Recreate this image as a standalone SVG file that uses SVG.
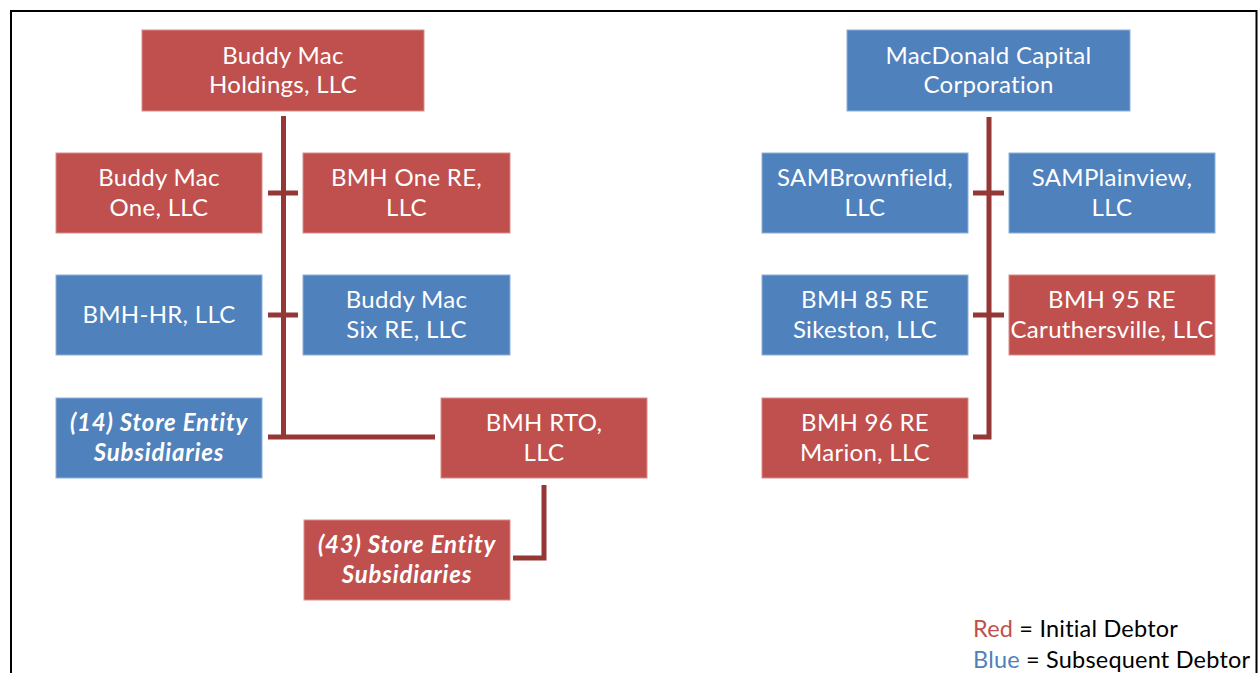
<svg xmlns="http://www.w3.org/2000/svg" width="1259" height="673" viewBox="0 0 1259 673">
<style>
.red{fill:#C0504D;stroke:#D88E8C;stroke-width:1}
.blue{fill:#4F81BD;stroke:#8FB0D8;stroke-width:1}
.t{font-family:Lato,"Open Sans",sans-serif;font-size:24px;letter-spacing:0.3px;fill:#ffffff;text-anchor:middle}
.ti{font-family:Lato,"Open Sans",sans-serif;font-size:24px;letter-spacing:0.8px;fill:#ffffff;text-anchor:middle;font-weight:bold;font-style:italic}
.c{fill:none;stroke:#953735;stroke-width:5;stroke-linecap:butt;stroke-linejoin:miter}
.lg{font-family:Lato,"Open Sans",sans-serif;font-size:23.5px;letter-spacing:0.2px;fill:#000000}
</style>
<rect x="0" y="0" width="1259" height="673" fill="#ffffff"/>
<path d="M11 673 V11 H1256.5 V673" fill="none" stroke="#000000" stroke-width="2"/>
<g id="connectors">
<path class="c" d="M283.5 116 V437"/>
<path class="c" d="M268 193 H298"/>
<path class="c" d="M268 315 H298"/>
<path class="c" d="M268 437 H435"/>
<path class="c" d="M544 485 V558 H513"/>
<path class="c" d="M989 117 V437 H973"/>
<path class="c" d="M973 193 H1004"/>
<path class="c" d="M973 315 H1004"/>
</g>
<g id="n1"><rect class="red" x="142" y="30" width="282" height="81"/><text class="t" x="283" y="64">Buddy Mac</text><text class="t" x="283" y="93">Holdings, LLC</text></g>
<g id="n2"><rect class="red" x="56" y="153" width="206" height="80"/><text class="t" x="159" y="186">Buddy Mac</text><text class="t" x="159" y="216">One, LLC</text></g>
<g id="n3"><rect class="red" x="303" y="153" width="207" height="80"/><text class="t" x="406.5" y="186">BMH One RE,</text><text class="t" x="406.5" y="216">LLC</text></g>
<g id="n4"><rect class="blue" x="56" y="275" width="206" height="80"/><text class="t" x="159" y="323">BMH-HR, LLC</text></g>
<g id="n5"><rect class="blue" x="303" y="275" width="207" height="80"/><text class="t" x="406.5" y="308">Buddy Mac</text><text class="t" x="406.5" y="338">Six RE, LLC</text></g>
<g id="n6"><rect class="blue" x="56" y="398" width="206" height="80"/><text class="ti" x="159" y="431">(14) Store Entity</text><text class="ti" x="159" y="461">Subsidiaries</text></g>
<g id="n7"><rect class="red" x="441" y="398" width="206" height="80"/><text class="t" x="544" y="431">BMH RTO,</text><text class="t" x="544" y="461">LLC</text></g>
<g id="n8"><rect class="red" x="304" y="520" width="206" height="80"/><text class="ti" x="407" y="553">(43) Store Entity</text><text class="ti" x="407" y="583">Subsidiaries</text></g>
<g id="n9"><rect class="blue" x="847" y="30" width="283" height="81"/><text class="t" x="988.5" y="64">MacDonald Capital</text><text class="t" x="988.5" y="93">Corporation</text></g>
<g id="n10"><rect class="blue" x="762" y="153" width="206" height="80"/><text class="t" x="865" y="186">SAMBrownfield,</text><text class="t" x="865" y="216">LLC</text></g>
<g id="n11"><rect class="blue" x="1009" y="153" width="206" height="80"/><text class="t" x="1112" y="186">SAMPlainview,</text><text class="t" x="1112" y="216">LLC</text></g>
<g id="n12"><rect class="blue" x="762" y="275" width="206" height="80"/><text class="t" x="865" y="308">BMH 85 RE</text><text class="t" x="865" y="338">Sikeston, LLC</text></g>
<g id="n13"><rect class="red" x="1009" y="275" width="206" height="80"/><text class="t" x="1112" y="308">BMH 95 RE</text><text class="t" x="1112" y="338">Caruthersville, LLC</text></g>
<g id="n14"><rect class="red" x="762" y="398" width="206" height="80"/><text class="t" x="865" y="431">BMH 96 RE</text><text class="t" x="865" y="461">Marion, LLC</text></g>
<g id="legend">
<text class="lg" x="973" y="637"><tspan fill="#C0504D">Red</tspan> = Initial Debtor</text>
<text class="lg" x="973" y="668"><tspan fill="#4F81BD">Blue</tspan> = Subsequent Debtor</text>
</g>
</svg>
